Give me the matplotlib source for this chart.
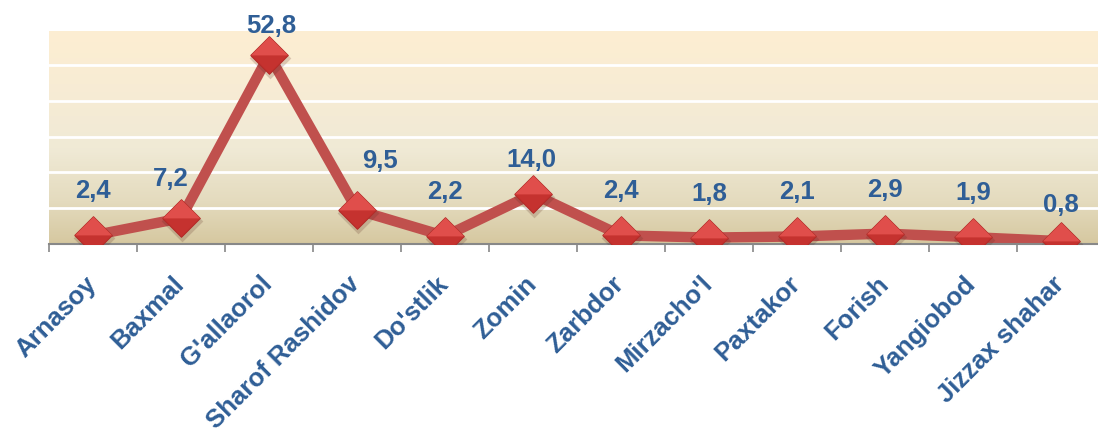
import matplotlib
matplotlib.use("Agg")
import matplotlib.pyplot as plt
import matplotlib.transforms as mtrans
import numpy as np
from matplotlib.colors import LinearSegmentedColormap

# data
districts = ["Arnasoy", "Baxmal", "G'allaorol", "Sharof Rashidov", "Do'stlik", "Zomin",
             "Zarbdor", "Mirzacho'l", "Paxtakor", "Forish", "Yangiobod", "Jizzax shahar"]
values = [2.4, 7.2, 52.8, 9.5, 2.2, 14.0, 2.4, 1.8, 2.1, 2.9, 1.9, 0.8]
labels = ["2,4", "7,2", "52,8", "9,5", "2,2", "14,0", "2,4", "1,8", "2,1", "2,9", "1,9", "0,8"]

# label nudges in pixels (dx, dy) where Excel moved them
label_offsets = {1: (-10, 39), 2: (2, 29), 3: (23, 49), 5: (-2, 34), 11: (0, 36)}

plt.rcParams['font.family'] = ['Liberation Sans', 'DejaVu Sans']

fig = plt.figure(figsize=(10.98, 4.30), dpi=100)
W, H = 1098, 430
ax = fig.add_axes([49 / W, 1 - 244 / H, 1 - 49 / W, 213 / H])

x = np.arange(len(districts))
ax.set_xlim(-0.5, 11.42)
ax.set_ylim(0, 59.5)

# gradient background
cmap = LinearSegmentedColormap.from_list(
    "bg", [(0.0, "#D6C8A0"), (0.2, "#E4DBBE"), (0.45, "#F0EAD6"), (0.75, "#F8ECD4"), (1.0, "#FDEED2")])
grad = np.linspace(0, 1, 256).reshape(-1, 1)
ax.imshow(grad, cmap=cmap, aspect="auto", origin="lower",
          extent=(-0.5, 11.42, 0, 59.5), zorder=0)

for yv in range(10, 60, 10):
    ax.axhline(yv, color="white", lw=2, zorder=1)

ax.plot(x, values, color="#C0504D", lw=7.5, solid_joinstyle="miter", zorder=2)

# diamond markers: soft shadow, lighter upper half, darker lower half
diamond = [(-1, 0), (0, 1), (1, 0), (0, -1), (-1, 0)]
up = [(-1, 0), (0, 1), (1, 0), (0, -1e-3), (-1, 0)]
down = [(-1, 0), (0, -1), (1, 0), (0, 1e-3), (-1, 0)]
ms = 27
shadow = ax.transData + mtrans.ScaledTranslation(1 / 100, -3 / 100, fig.dpi_scale_trans)
ax.plot(x, values, marker=diamond, ls="none", ms=ms + 3, color="#5A2A20", alpha=0.2,
        mec="none", zorder=3, transform=shadow)
ax.plot(x, values, marker=diamond, ls="none", ms=ms, color="#D33D3A", mec="#B02C29", mew=0.8, zorder=4)
ax.plot(x, values, marker=up, ls="none", ms=ms * 0.999, color="#E2514D", mec="none", alpha=0.9, zorder=5)
ax.plot(x, values, marker=down, ls="none", ms=ms * 0.999, color="#BC2B28", mec="none", alpha=0.6, zorder=5)

blue = "#2F5E96"
for i, (v, lab) in enumerate(zip(values, labels)):
    dx, dy = label_offsets.get(i, (0, 44))
    ax.annotate(lab, (i, v), xytext=(dx, dy), textcoords="offset pixels",
                ha="center", va="center", fontsize=18.5, fontweight="bold", color=blue, zorder=6)

ax.set_xticks(np.arange(-0.5, 11.5, 1.0))
ax.set_xticklabels([])
ax.set_xticks(x, minor=True)
ax.set_xticklabels(districts, minor=True, rotation=45, ha="right", rotation_mode="anchor",
                   fontsize=18.5, fontweight="bold", color=blue)
ax.tick_params(axis="x", which="major", length=6, width=1.2, color="#888888")
ax.tick_params(axis="x", which="minor", length=0, pad=20)
shift = mtrans.ScaledTranslation(-9 / 100, 0, fig.dpi_scale_trans)
for t in ax.get_xticklabels(minor=True):
    t.set_transform(t.get_transform() + shift)
ax.set_yticks([])

for s in ["top", "right", "left"]:
    ax.spines[s].set_visible(False)
ax.spines["bottom"].set_color("#888888")
ax.spines["bottom"].set_linewidth(1.5)

fig.savefig("out.png", dpi=100)
